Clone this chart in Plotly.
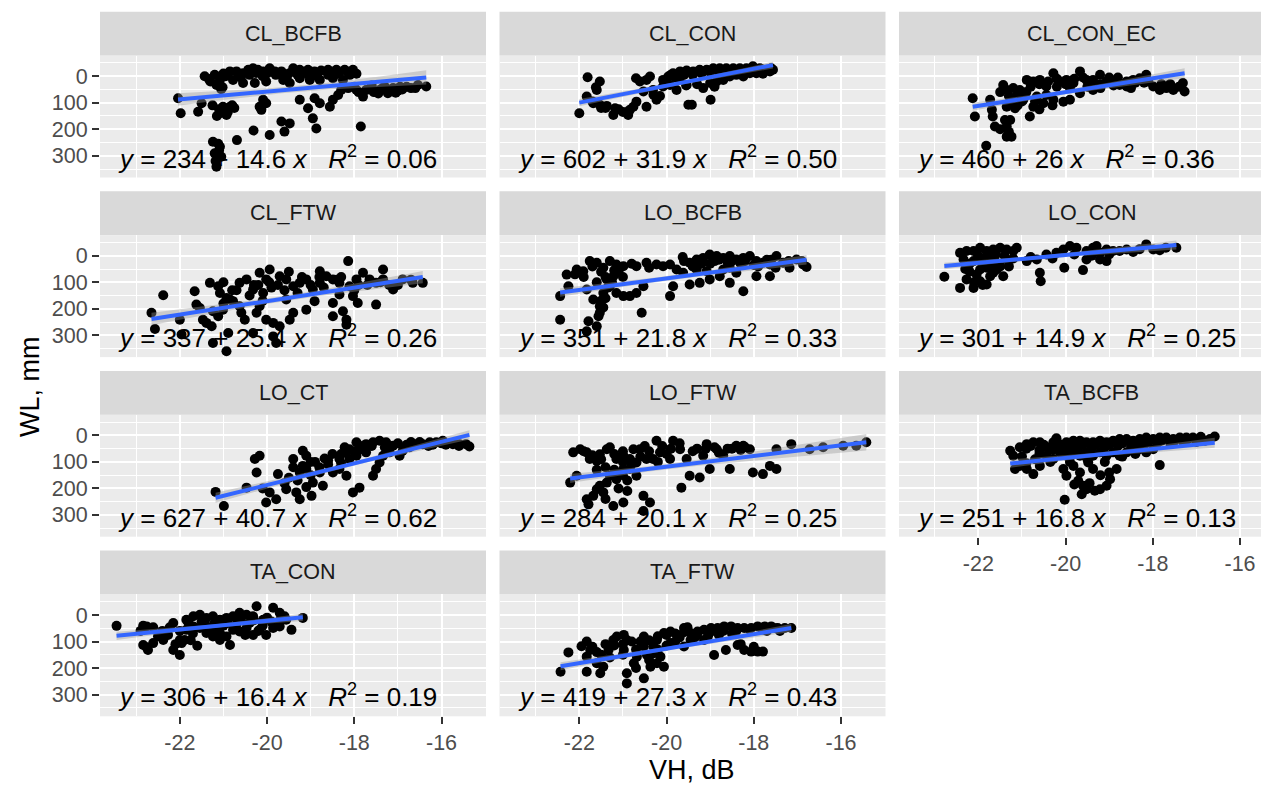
import numpy as np
import plotly.graph_objects as go

# ---------------- data ----------------
panels = ["CL_BCFB", "CL_CON", "CL_CON_EC", "CL_FTW", "LO_BCFB", "LO_CON",
          "LO_CT", "LO_FTW", "TA_BCFB", "TA_CON", "TA_FTW"]
intercepts = [234, 602, 460, 337, 351, 301, 627, 284, 251, 306, 419]
slopes = [14.6, 31.9, 26, 25.4, 21.8, 14.9, 40.7, 20.1, 16.8, 16.4, 27.3]
r2_labels = ["0.06", "0.50", "0.36", "0.26", "0.33", "0.25", "0.62", "0.25", "0.13", "0.19", "0.43"]
x_ticks = [-22, -20, -18, -16]
x_minor = [-23, -21, -19, -17]
y_ticks = [0, -100, -200, -300]
y_tick_labels = ["0", "100", "200", "300"]
y_minor = [50, -50, -150, -250, -350]

vh_cl_bcfb = [-21.43, -21.33, -21.08, -20.85, -20.70, -20.55, -20.43, -20.32, -20.21, -20.09, -19.94, -19.82,
              -19.67, -19.40, -19.25, -19.06, -18.91, -18.76, -18.60, -18.41, -18.22, -18.03, -17.95,
              -21.16, -21.05, -20.78, -20.55, -20.28, -20.02, -19.63, -19.48, -19.25, -19.02, -18.79, -18.49, -18.26,
              -19.25, -19.06, -18.95, -18.87, -18.91, -18.79, -18.56, -18.49, -18.37, -18.30, -18.14, -17.95,
              -17.80, -17.73, -17.42, -17.23, -17.11, -16.54, -16.35, -17.85, -19.67, -19.60, -19.48, -19.94,
              -20.31, -20.69, -20.17, -20.09, -20.02, -20.13, -21.01, -20.93, -21.08, -20.85, -21.58, -21.50,
              -21.98, -22.04, -21.24, -21.08, -21.20, -21.05, -21.16, -21.02, -17.55, -17.35, -17.00, -16.80,
              -21.20, -20.95, -20.60, -20.40, -20.10, -19.80, -19.50, -19.30, -19.10, -18.85, -18.60, -18.35,
              -18.10, -20.00, -19.55, -17.60, -17.30, -16.90, -16.70, -17.45, -17.05, -21.10, -20.95, -20.80,
              -21.30, -21.00, -20.65, -20.25, -19.85, -19.35, -18.95, -18.45, -18.15, -17.65, -17.50, -17.20,
              -16.95, -16.60, -17.90, -18.00, -21.25, -21.15, -20.90, -20.75, -21.12, -21.18, -21.10]
wl_cl_bcfb = [0, -11, -14, 18, 18, 11, 24, 30, 24, 18, 30, 18,
              18, 30, 24, 24, 18, 21, 24, 24, 24, 24, 9,
              -33, -49, -14, -26, -26, -20, -14, -26, -8, -14, -14, -8, -14,
              -89, -121, -159, -197, -83, -102, -115, -89, -71, -52, -45, -52,
              -77, -52, -52, -64, -45, -33, -39, -190, -171, -209, -178, -222,
              -205, -241, -115, -89, -102, -127, -115, -146, -140, -115, -134, -102,
              -140, -83, -247, -266, -291, -304, -341, -42, -60, -45, -55, -40,
              5, 0, -5, 5, 0, 5, 10, 5, 10, 0, 5, 10,
              5, 10, -5, -35, -40, -50, -45, -65, -62, -125, -130, -110,
              -20, 10, 0, 12, 15, 15, 8, 12, 15, -50, -60, -55,
              -40, -45, -60, -40, -110, -150, -135, -120, -255, -320, -280]

vh_cl_con = [-22.00, -21.81, -21.83, -21.62, -21.53, -21.60, -21.68, -21.53, -21.37, -21.18, -21.22, -20.88,
             -20.84, -20.76, -20.69, -20.46, -20.23, -20.70, -20.61, -20.46, -20.38, -20.53, -20.31, -20.08,
             -19.96, -19.85, -19.69, -19.54, -19.39, -19.24, -19.08, -18.93, -18.78, -18.63, -18.47, -18.32,
             -18.17, -18.02, -17.86, -17.71, -17.56, -19.77, -19.54, -19.50, -19.42, -19.16, -18.99, -19.00,
             -18.85, -18.70, -18.55, -18.40, -18.24, -18.09, -17.94, -17.79, -17.63, -20.08, -19.92,
             -20.00, -19.80, -19.60, -19.40, -19.20, -19.00, -18.80, -18.60, -18.40, -18.20, -18.00, -17.80,
             -17.60, -19.90, -19.70, -19.30, -18.90, -19.55, -21.70, -21.50, -21.10, -20.90,
             -21.40, -21.00, -20.30, -20.15]
wl_cl_con = [-140, -4, -77, -42, -20, -52, -102, -108, -112, -121, -146, -146,
             -127, -115, -96, -115, -89, -8, -20, -14, -1, -58, -52, -14,
             -1, 11, 18, 21, 18, 24, 24, 30, 30, 30, 30, 30,
             30, 37, 30, 24, 24, -52, -33, -108, -108, -45, -89, -26,
             -20, -14, -1, 5, -1, 11, 11, 9, 18, -39, -33,
             -20, -5, 5, 5, 10, 15, 15, 20, 20, 20, 25, 25,
             30, 5, -10, -30, -40, -35, -95, -120, -125, -135,
             -120, -135, -70, -75]

vh_cl_con_ec = [-22.13, -22.08, -21.82, -21.73, -21.69, -21.67, -21.62, -21.35, -21.39, -21.27, -21.24, -21.35,
                -21.16, -20.82, -21.43, -21.35, -21.20, -21.05, -20.89, -20.74, -20.59, -20.44, -20.28, -20.13,
                -19.98, -19.82, -19.67, -19.52, -19.37, -19.21, -19.06, -18.91, -18.76, -18.60, -18.45, -18.30,
                -18.15, -17.99, -17.84, -17.69, -17.53, -17.31, -17.27, -21.35, -21.20, -20.97, -20.74, -20.51,
                -20.28, -20.05, -19.90, -19.67, -19.37, -20.66, -20.44, -20.90, -21.00, -20.20, -19.90,
                -21.10, -20.80, -20.60, -20.40, -20.20, -20.00, -19.80, -19.60, -19.40, -19.20, -19.00, -18.80,
                -18.60, -18.40, -18.20, -17.80, -17.60, -21.00, -20.70, -21.30, -21.50,
                -21.25, -21.10, -20.60, -20.30, -19.50, -19.20, -18.90, -18.50, -18.10, -17.40, -21.50, -21.30]
wl_cl_con_ec = [-83, -152, -262, -89, -127, -152, -190, -190, -165, -165, -228, -228,
                -121, -152, -33, -52, -45, -52, -14, -20, -14, -39, 11, -20,
                -14, -26, 18, -14, -14, 5, -20, -20, -33, -39, -14, -8,
                5, -39, -52, -45, -52, -26, -58, -115, -102, -89, -115, -102,
                -89, -96, -89, -64, -52, -77, -71, -60, -75, -40, -45,
                -70, -40, -30, -20, -10, -30, -10, -5, -25, -30, -5, -5,
                -20, -25, -25, -30, -30, -95, -95, -75, -60,
                -90, -110, -125, -110, -40, -45, -35, -45, -20, -40, -200, -210]

vh_cl_ftw = [-22.65, -22.57, -22.38, -22.00, -21.96, -21.66, -21.62, -21.54, -21.47, -21.39, -21.27, -21.24,
             -20.93, -21.31, -21.12, -21.08, -21.24, -21.12, -21.01, -20.93, -20.85, -20.78, -20.89, -20.63,
             -20.47, -20.32, -20.17, -20.02, -20.09, -20.17, -20.24, -20.02, -19.86, -19.86, -19.71, -19.79,
             -20.32, -20.59, -20.51, -20.63, -19.94, -19.71, -19.56, -19.40, -19.25, -19.10, -18.95, -18.79,
             -18.64, -18.49, -18.34, -18.11, -17.95, -17.80, -17.65, -17.50, -17.34, -17.11, -16.89, -16.66,
             -16.43, -18.14, -17.34, -18.79, -19.56, -19.40, -19.10, -18.91, -18.49, -18.34, -18.03, -17.92,
             -17.50, -18.26, -18.18, -18.18, -18.49, -19.48, -20.40, -20.20, -19.90, -19.60, -19.30, -19.00,
             -18.70, -18.40, -18.00, -17.70, -17.20, -20.80, -21.00, -20.10,
             -20.30, -19.95, -19.75, -19.50, -19.20, -18.80, -18.30, -17.90, -17.40, -17.00, -16.70, -20.70,
             -21.00]
wl_cl_ftw = [-215, -276, -149, -241, -297, -134, -184, -197, -241, -253, -266, -329,
             -360, -102, -115, -140, -209, -228, -203, -159, -165, -171, -291, -102,
             -89, -127, -64, -89, -140, -190, -215, -241, -253, -304, -266, -329,
             -291, -215, -241, -190, -52, -77, -89, -115, -102, -89, -127, -102,
             -77, -89, -102, -115, -89, -64, -89, -102, -89, -127, -89, -102,
             -102, -20, -52, -58, -165, -215, -203, -171, -178, -146, -152, -178,
             -184, -209, -241, -260, -228, -241, -150, -110, -120, -130, -140, -110,
             -120, -90, -130, -110, -110, -130, -180, -170,
             -110, -100, -110, -60, -80, -80, -80, -110, -100, -110, -90, -130,
             -100]

vh_lo_bcfb = [-22.44, -22.44, -22.29, -22.25, -22.06, -21.91, -21.76, -21.60, -21.45, -21.30, -21.15, -20.99,
              -21.83, -21.68, -21.53, -21.45, -21.30, -21.15, -20.99, -21.53, -21.60, -21.79, -21.83, -21.56,
              -21.37, -21.22, -20.84, -20.69, -20.57, -20.53, -20.69, -20.46, -20.23, -20.08, -19.92, -19.63,
              -19.92, -19.85, -19.47, -19.24, -19.01, -18.78, -18.55, -18.24, -18.40, -17.94, -17.63, -19.47,
              -19.31, -19.16, -19.01, -18.85, -18.70, -18.55, -18.40, -18.24, -18.09, -17.94, -17.79, -17.63,
              -17.48, -17.33, -17.18, -17.02, -16.87, -16.79, -19.77, -19.62, -19.31, -19.08, -18.70, -18.55,
              -21.70, -21.50, -21.40, -21.25, -21.40, -21.50, -21.35, -21.60, -21.10, -21.00, -21.20, -21.45,
              -18.90, -18.60, -18.30, -18.00, -17.70, -17.50, -19.20,
              -19.60, -19.40, -19.00, -18.80, -18.50, -18.20, -17.90, -17.60, -17.20, -16.90, -20.40, -20.80,
              -22.10, -21.90]
wl_lo_bcfb = [-152, -241, -71, -115, -52, -58, -20, -26, -45, -20, -33, -39,
              -127, -165, -190, -140, -115, -140, -152, -215, -266, -247, -285, -228,
              -89, -77, -152, -140, -215, -115, -39, -26, -33, -39, -33, -5,
              -152, -115, -108, -102, -89, -77, -102, -134, -64, -77, -77, -26,
              -14, -8, 5, -1, -8, -1, -14, -8, -1, -20, -26, -33,
              -1, -26, -45, -14, -33, -42, -52, -64, -52, -58, -52, -45,
              -40, -60, -80, -100, -160, -170, -120, -100, -60, -80, -55, -195,
              -20, -25, -30, -35, -15, -45, -30,
              -20, -40, -30, -15, -20, -20, -40, -15, -20, -20, -45, -30,
              -70, -80]

vh_lo_con = [-22.78, -22.42, -22.42, -22.27, -22.11, -21.96, -21.81, -21.66, -21.50, -21.35, -21.20, -21.12,
             -22.34, -22.11, -21.96, -21.66, -21.58, -21.35, -22.27, -22.11, -21.96, -21.81, -21.73, -21.58,
             -21.43, -21.96, -21.81, -21.66, -22.04, -20.89, -20.66, -20.59, -20.57, -20.44, -20.21, -20.05,
             -19.90, -19.75, -19.52, -19.37, -19.29, -20.03, -19.60, -19.52, -19.21, -19.06, -18.91, -18.76,
             -18.60, -18.45, -18.15, -17.99, -17.84, -17.46, -19.21, -19.06,
             -22.20, -22.00, -21.80, -21.60, -21.40, -21.90, -21.70, -22.20, -21.50,
             -22.30, -22.10, -21.90, -21.30, -21.20, -20.80, -20.30, -19.80, -19.40, -19.00, -18.30, -17.70]
wl_lo_con = [-79, -121, 11, 18, 18, 30, 18, 24, 30, 24, 18, 30,
             -14, -20, -14, -8, -26, -14, -89, -121, -96, -108, -77, -52,
             -77, -52, -45, -64, -71, -20, -14, -64, -96, 5, 11, 24,
             37, 30, 18, 30, 37, -45, -54, -14, -14, -20, 18, 18,
             24, 14, 43, 24, 21, 30, 11, 24,
             -30, 0, 0, 5, 0, -30, -30, -60, -40,
             -50, -100, -110, -40, -10, -5, -10, 5, 0, 5, 25, 30]

vh_lo_ct = [-21.18, -20.99, -20.47, -20.28, -20.24, -20.17, -20.02, -19.94, -19.79, -19.75, -19.56, -19.40,
            -19.33, -19.25, -19.18, -19.10, -18.98, -19.25, -19.18, -19.10, -18.95, -18.79, -18.72, -18.68,
            -18.49, -18.34, -18.18, -18.11, -18.34, -18.18, -18.22, -18.03, -17.88, -17.95, -17.88, -17.73,
            -17.57, -17.50, -17.42, -17.57, -17.42, -17.27, -17.11, -16.96, -16.89, -16.73, -16.58, -16.43,
            -16.27, -16.12, -15.97, -15.74, -15.59, -15.44, -15.36, -17.73, -17.34, -17.19, -18.11, -17.95,
            -18.90, -18.60, -18.30, -18.00, -17.80, -17.60, -17.30, -17.00, -16.70, -16.30, -16.00, -18.50,
            -19.00, -19.30, -19.60, -19.10,
            -17.20, -16.80, -16.50, -16.20, -15.90, -15.60, -17.90, -18.30, -18.60, -19.00, -19.40, -19.50,
            -20.10, -18.80]
wl_lo_ct = [-213, -266, -197, -89, -140, -77, -253, -215, -241, -146, -203, -89,
            -215, -241, -115, -127, -228, -140, -58, -77, -178, -140, -190, -87,
            -140, -127, -152, -89, -89, -64, -45, -215, -197, -77, -39, -33,
            -152, -127, -102, -26, -20, -26, -39, -77, -58, -45, -33, -33,
            -26, -26, -20, -33, -33, -33, -42, -64, -77, -64, -52, -26,
            -100, -110, -105, -60, -45, -40, -45, -30, -25, -40, -30, -70,
            -150, -170, -180, -195,
            -50, -35, -25, -35, -35, -40, -55, -70, -95, -100, -120, -160,
            -200, -120]

vh_lo_ftw = [-22.21, -22.14, -21.98, -21.83, -22.06, -21.76, -21.60, -21.53, -21.37, -21.30, -21.83, -21.79,
             -21.68, -21.60, -21.53, -21.45, -21.37, -21.30, -21.15, -21.22, -20.99, -20.53, -20.38, -20.53,
             -21.15, -20.99, -20.84, -20.69, -20.76, -20.61, -20.46, -20.31, -20.23, -20.15, -19.92, -19.85,
             -19.69, -19.66, -19.54, -19.47, -19.24, -19.16, -19.01, -19.08, -18.85, -18.70, -18.55, -18.40,
             -18.24, -18.09, -18.02, -17.79, -17.63, -17.48, -17.48, -17.14, -16.72, -16.41, -15.95, -15.65,
             -15.42, -20.84, -20.69, -20.99, -21.15,
             -21.90, -21.70, -21.50, -21.20, -21.00, -20.80, -20.60, -20.40, -20.20, -21.40, -21.20, -21.00,
             -20.90, -21.60, -20.10, -19.90, -19.30, -18.90, -18.60, -18.30,
             -21.00, -20.50, -20.00, -19.70, -19.40, -19.10, -18.80, -18.50, -18.20, -21.10, -20.90, -21.40]
wl_lo_ftw = [-178, -64, -52, -64, -152, -89, -96, -71, -52, -45, -241, -260,
             -228, -203, -190, -215, -178, -152, -146, -266, -253, -228, -253, -285,
             -89, -77, -89, -102, -52, -52, -89, -89, -20, -64, -89, -20,
             -52, -197, -89, -152, -159, -77, -127, -33, -52, -77, -127, -39,
             -39, -52, -140, -146, -115, -127, -52, -33, -52, -45, -39, -39,
             -26, -127, -152, -127, -165,
             -60, -75, -90, -70, -100, -110, -80, -60, -100, -120, -130, -150,
             -170, -130, -40, -50, -50, -45, -50, -55,
             -60, -40, -70, -30, -60, -50, -65, -50, -45, -200, -210, -240]

vh_ta_bcfb = [-21.27, -21.16, -21.05, -20.89, -20.74, -20.59, -21.20, -21.05, -20.89, -20.74, -20.59, -20.44,
              -20.28, -20.13, -19.98, -19.82, -19.67, -19.52, -19.37, -19.21, -19.06, -18.91, -18.76, -18.60,
              -18.45, -18.30, -18.15, -17.99, -17.84, -17.69, -17.53, -17.38, -17.23, -17.08, -16.92, -16.69,
              -16.58, -20.21, -20.44, -20.28, -20.13, -19.98, -19.82, -19.67, -19.52, -19.37, -19.21, -19.06,
              -18.91, -18.76, -18.60, -18.45, -18.30, -18.15, -17.99, -17.84, -20.05, -19.98, -19.82, -19.67,
              -19.71, -19.60, -19.63, -19.52, -19.33, -19.21, -19.06, -18.98, -18.83, -20.02, -19.37, -19.48,
              -20.90, -20.60, -20.30, -20.00, -19.70, -19.40, -19.10, -18.80, -18.50, -18.20, -17.90, -17.60,
              -17.30, -17.00, -16.80, -21.00, -20.70, -20.90,
              -20.80, -20.50, -20.20, -19.90, -19.60, -19.30, -19.00, -18.70, -18.40, -18.10, -17.80, -17.50,
              -17.20, -16.90, -20.60, -20.35, -19.90, -19.50, -19.10, -18.70, -18.40, -19.80, -19.45, -19.20,
              -19.00]
wl_ta_bcfb = [-58, -127, -115, -127, -146, -115, -77, -45, -33, -26, -26, -45,
              -26, -33, -26, -20, -20, -26, -26, -20, -26, -20, -14, -14,
              -20, -14, -8, -14, -8, -8, -14, -8, -8, -8, -14, -14,
              -4, -11, -77, -89, -64, -77, -64, -77, -64, -77, -64, -77,
              -64, -77, -64, -58, -52, -64, -52, -112, -127, -152, -115, -140,
              -171, -190, -222, -203, -209, -203, -190, -165, -127, -243, -127, -102,
              -50, -55, -55, -50, -45, -50, -45, -40, -40, -35, -30, -30,
              -25, -25, -20, -80, -90, -105,
              -40, -35, -45, -40, -35, -35, -35, -30, -30, -25, -20, -20,
              -15, -5, -70, -100, -100, -90, -100, -80, -70, -185, -180, -150,
              -140]

vh_ta_con = [-23.45, -22.84, -22.76, -22.61, -22.84, -22.76, -22.61, -22.73, -22.38, -22.27, -22.23, -22.15,
             -22.15, -22.00, -21.96, -21.89, -22.00, -21.85, -21.69, -21.54, -21.39, -21.24, -21.08, -20.93,
             -20.78, -20.63, -20.47, -20.32, -20.24, -20.09, -19.86, -19.71, -19.56, -19.18, -21.85, -21.69,
             -21.54, -21.39, -21.24, -21.08, -20.93, -20.78, -20.63, -20.47, -20.32, -20.17, -20.02, -19.86,
             -19.71, -19.44, -21.60, -21.08, -20.85, -21.16,
             -21.80, -21.50, -21.20, -20.90, -20.60, -20.30, -20.00, -19.70, -21.70, -21.40, -22.40, -22.00,
             -20.50, -20.10,
             -22.50, -22.10, -21.75, -21.30, -21.00, -20.70, -20.40, -20.20, -19.90, -19.60, -22.90]
wl_ta_con = [-41, -41, -43, -46, -113, -122, -106, -132, -94, -75, -46, -30,
             -132, -151, -106, -94, -94, -18, -5, 1, -11, -5, -18, -11,
             -5, 8, 1, -5, 33, -18, 27, 8, -18, -11, -56, -43,
             -49, -68, -81, -68, -81, -56, -62, -49, -75, -56, -75, -49,
             -43, -56, -116, -94, -113, -56,
             -30, -25, -30, -30, -20, -20, -10, -20, -70, -40, -60, -60,
             -75, -40,
             -80, -110, -95, -55, -40, -35, -30, -60, -25, -5, -60]

vh_ta_ftw = [-22.43, -22.25, -21.95, -21.83, -21.75, -21.83, -21.83, -21.60, -21.52, -21.45, -21.33, -21.22,
             -21.14, -20.98, -20.91, -20.98, -20.91, -20.91, -20.75, -20.68, -20.52, -20.52, -20.45, -20.37,
             -20.52, -20.29, -20.22, -20.06, -20.14, -20.22, -20.06, -19.91, -19.75, -19.60, -19.45, -19.29,
             -19.14, -18.98, -18.83, -18.68, -18.52, -18.37, -18.22, -18.06, -17.91, -17.75, -17.60, -17.45,
             -17.29, -17.14, -19.52, -19.91, -19.60, -19.45, -19.14, -18.91, -18.64, -18.37, -18.22, -18.06,
             -17.91, -17.79,
             -21.40, -21.20, -21.00, -20.80, -20.60, -20.40, -20.20, -20.00, -19.80, -19.60, -19.30, -19.00,
             -18.70, -18.40, -18.10, -17.80, -17.50, -21.00, -20.70, -20.30, -20.00, -21.60,
             -21.70, -21.50, -21.30, -20.70, -20.40, -20.20, -19.80, -19.70, -19.35, -19.05, -18.80, -18.50,
             -17.70, -17.40, -18.30, -18.00]
wl_ta_ftw = [-214, -141, -118, -100, -132, -157, -214, -182, -220, -195, -132, -94,
             -81, -75, -94, -132, -220, -258, -182, -157, -81, -119, -151, -195,
             -239, -144, -182, -195, -157, -94, -68, -62, -75, -49, -68, -62,
             -56, -49, -49, -43, -43, -49, -49, -49, -43, -43, -43, -49,
             -49, -49, -46, -106, -119, -94, -94, -151, -132, -113, -132, -138,
             -138, -138,
             -110, -115, -110, -100, -100, -95, -80, -75, -70, -65, -75, -65,
             -60, -60, -55, -55, -50, -150, -130, -120, -115, -140,
             -120, -150, -160, -200, -170, -130, -100, -85, -85, -80, -75, -70,
             -60, -60, -110, -120]

vh_data = [vh_cl_bcfb, vh_cl_con, vh_cl_con_ec, vh_cl_ftw, vh_lo_bcfb, vh_lo_con,
           vh_lo_ct, vh_lo_ftw, vh_ta_bcfb, vh_ta_con, vh_ta_ftw]
wl_data = [wl_cl_bcfb, wl_cl_con, wl_cl_con_ec, wl_cl_ftw, wl_lo_bcfb, wl_lo_con,
           wl_lo_ct, wl_lo_ftw, wl_ta_bcfb, wl_ta_con, wl_ta_ftw]

# ---------------- layout geometry (page pixels) ----------------
PAGE_W, PAGE_H = 1269, 785
OFF = 8                      # default body margin of the html page
W, H = PAGE_W - OFF, PAGE_H - OFF


def px(v):
    return (v - OFF) / W


def py(v):
    return 1 - (v - OFF) / H


col_left = [100, 499.5, 899]
col_right = [486, 885.5, 1269]
col_center = [293, 692.5, 1091.5]
x_ranges = [[-23.83, -14.98], [-23.83, -14.98], [-23.82, -15.335]]
y_range = [-382, 78]
strip_top0, row_pitch, strip_h, panel_h = 11.7, 179.6, 43.8, 122.0

FONT = "Liberation Sans, Arial, sans-serif"
fig = go.Figure()
shapes, annotations = [], []

for i, name in enumerate(panels):
    r, c = divmod(i, 3)
    k = "" if i == 0 else str(i + 1)
    xr, yr = "x" + k, "y" + k
    st = strip_top0 + row_pitch * r
    ptop, pbot = st + strip_h, st + strip_h + panel_h

    x = np.array(vh_data[i], dtype=float)
    y = np.array(wl_data[i], dtype=float)
    a, b = intercepts[i], slopes[i]

    fig.add_trace(go.Scatter(x=x, y=y, mode="markers", xaxis=xr, yaxis=yr,
                             marker=dict(color="black", size=10), showlegend=False,
                             hoverinfo="skip"))
    n = len(x)
    xm = x.mean()
    sxx = ((x - xm) ** 2).sum()
    s = np.sqrt(((y - (a + b * x)) ** 2).sum() / (n - 2))
    xs = np.linspace(x.min(), x.max(), 80)
    fit = a + b * xs
    se = s * np.sqrt(1.0 / n + (xs - xm) ** 2 / sxx) * 1.97 / np.sqrt(1.6)
    fig.add_trace(go.Scatter(x=np.concatenate([xs, xs[::-1]]),
                             y=np.concatenate([fit + se, (fit - se)[::-1]]),
                             fill="toself", fillcolor="rgba(153,153,153,0.4)",
                             line=dict(width=0), mode="lines", xaxis=xr, yaxis=yr,
                             showlegend=False, hoverinfo="skip"))
    fig.add_trace(go.Scatter(x=xs, y=fit, mode="lines", xaxis=xr, yaxis=yr,
                             line=dict(color="#3366FF", width=4), showlegend=False,
                             hoverinfo="skip"))

    bottom_panel = (r == 3) or (r == 2 and c == 2)
    xaxis = dict(domain=[px(col_left[c]), min(1.0, px(col_right[c]))], range=x_ranges[c],
                 anchor=yr, tickmode="array", tickvals=x_ticks,
                 ticktext=[str(v) for v in x_ticks],
                 showgrid=True, gridcolor="white", gridwidth=2,
                 minor=dict(tickmode="array", tickvals=x_minor, showgrid=True,
                            gridcolor="white", gridwidth=1),
                 zeroline=False, showline=False,
                 showticklabels=bottom_panel,
                 ticks="outside" if bottom_panel else "", ticklen=7, tickwidth=2,
                 tickcolor="#333333",
                 tickfont=dict(family=FONT, size=21.5, color="#4D4D4D"))
    yaxis = dict(domain=[py(pbot), py(ptop)], range=y_range, anchor=xr,
                 tickmode="array", tickvals=y_ticks, ticktext=y_tick_labels,
                 showgrid=True, gridcolor="white", gridwidth=2,
                 minor=dict(tickmode="array", tickvals=y_minor, showgrid=True,
                            gridcolor="white", gridwidth=1),
                 zeroline=False, showline=False,
                 showticklabels=(c == 0),
                 ticks="outside" if c == 0 else "", ticklen=7, tickwidth=2,
                 tickcolor="#333333",
                 tickfont=dict(family=FONT, size=21.5, color="#4D4D4D"))
    fig.update_layout(**{"xaxis" + k: xaxis, "yaxis" + k: yaxis})

    shapes.append(dict(type="rect", xref="paper", yref="paper",
                       x0=px(col_left[c]), x1=min(1.0, px(col_right[c])),
                       y0=py(st + strip_h), y1=py(st),
                       fillcolor="#D9D9D9", line=dict(width=0), layer="below"))
    annotations.append(dict(text=name, xref="paper", yref="paper",
                            x=px(col_center[c]), y=py(st + strip_h / 2),
                            xanchor="center", yanchor="middle", showarrow=False,
                            font=dict(family=FONT, size=21.5, color="#1A1A1A")))
    eq = (f"<i>y</i> = {a} + {b:g} <i>x</i>\u00a0\u00a0\u00a0"
          f"<i>R</i><sup>2</sup> = {r2_labels[i]}")
    annotations.append(dict(text=eq, xref="paper", yref="paper",
                            x=px(col_left[c] + 16), y=py(pbot - 2),
                            xanchor="left", yanchor="bottom", showarrow=False,
                            font=dict(family=FONT, size=26, color="black")))

annotations.append(dict(text="VH, dB", xref="paper", yref="paper",
                        x=px(692), y=py(770), xanchor="center", yanchor="middle",
                        showarrow=False, font=dict(family=FONT, size=27, color="black")))
annotations.append(dict(text="WL, mm", xref="paper", yref="paper",
                        x=px(30), y=py(387), xanchor="center", yanchor="middle",
                        textangle=-90, showarrow=False,
                        font=dict(family=FONT, size=27, color="black")))

fig.update_layout(width=W, height=H, margin=dict(l=0, r=0, t=0, b=0),
                  paper_bgcolor="white", plot_bgcolor="#EBEBEB",
                  shapes=shapes, annotations=annotations, showlegend=False)

fig.write_html("out.html")
